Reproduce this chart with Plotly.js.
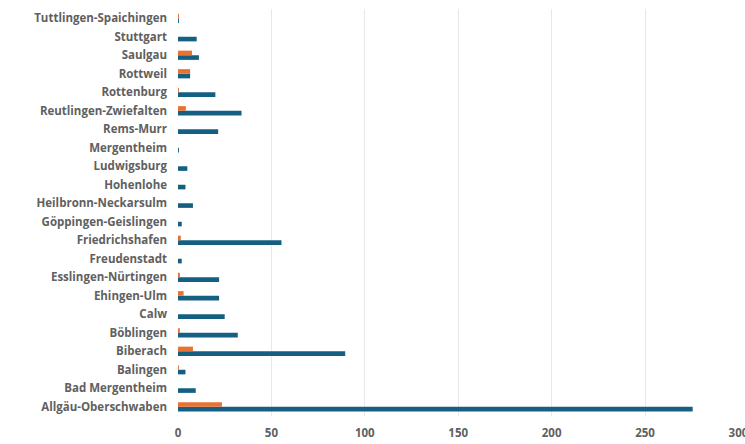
<!DOCTYPE html>
<html>
<head>
<meta charset="utf-8">
<script src="https://cdn.plot.ly/plotly-3.0.1.min.js"></script>
<style>html,body{margin:0;padding:0;background:#fff;}#chart{width:745px;height:444px;}</style>
</head>
<body>
<div id="chart"></div>
<script>
const categories = [
  "Allgäu-Oberschwaben", "Bad Mergentheim", "Balingen", "Biberach", "Böblingen",
  "Calw", "Ehingen-Ulm", "Esslingen-Nürtingen", "Freudenstadt", "Friedrichshafen",
  "Göppingen-Geislingen", "Heilbronn-Neckarsulm", "Hohenlohe", "Ludwigsburg",
  "Mergentheim", "Rems-Murr", "Reutlingen-Zwiefalten", "Rottenburg", "Rottweil",
  "Saulgau", "Stuttgart", "Tuttlingen-Spaichingen"
];
const seriesBlue = [
  275.5, 9.5, 4, 89.5, 32, 25, 22, 22, 2, 55.4,
  2, 8, 4, 5, 0.5, 21.5, 34, 20, 6.5, 11.2, 10, 0.5
];
const seriesOrange = [
  23.5, 0, 0.5, 8, 1, 0, 3, 1, 0, 1.5,
  0, 0, 0, 0, 0, 0, 4.2, 0.5, 6.5, 7.5, 0, 0.5
];
const xTicks = [0, 50, 100, 150, 200, 250, 300];

const traces = [
  {type: "bar", orientation: "h", y: categories, x: seriesBlue, name: "Serie 1",
   marker: {color: "#156082"}},
  {type: "bar", orientation: "h", y: categories, x: seriesOrange, name: "Serie 2",
   marker: {color: "#E97132"}}
];

const tf = {size: 11.5, color: "#606060", family: "Open Sans, sans-serif", weight: "bold"};

const layout = {
  width: 745, height: 444,
  margin: {l: 178, r: 6, t: 9, b: 28, pad: 0},
  paper_bgcolor: "#ffffff", plot_bgcolor: "#ffffff",
  barmode: "group", bargap: 0.5, bargroupgap: 0,
  showlegend: false,
  font: {family: "Open Sans, sans-serif", color: "#606060"},
  xaxis: {
    range: [0, 300.3], tickvals: xTicks, ticktext: xTicks.map(String),
    showgrid: true, gridcolor: "#e8e8e8", gridwidth: 1,
    zeroline: false, showline: false, ticks: "",
    ticklabelstandoff: 8, ticklabeloverflow: "allow",
    tickfont: tf
  },
  yaxis: {
    type: "category", categoryorder: "array", categoryarray: categories,
    range: [-0.5, categories.length - 0.5],
    showgrid: false, zeroline: false, showline: false, ticks: "",
    ticklabelstandoff: 10,
    tickfont: tf
  }
};

Plotly.newPlot("chart", traces, layout, {displayModeBar: false, staticPlot: true});
</script>
</body>
</html>
